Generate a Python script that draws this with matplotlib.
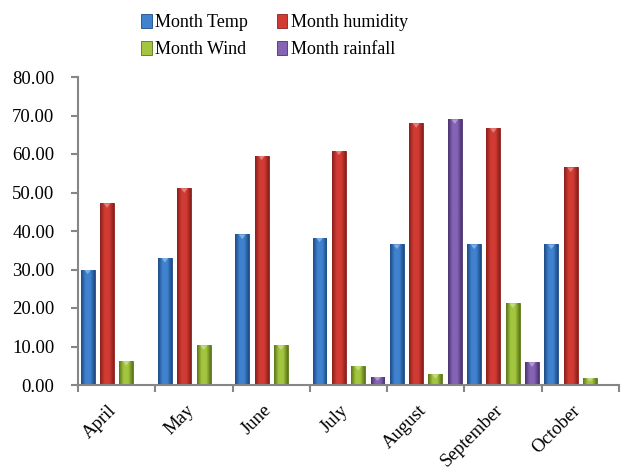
import numpy as np
import matplotlib
matplotlib.use("Agg")
import matplotlib.pyplot as plt
from matplotlib import colors
from matplotlib.transforms import ScaledTranslation

plt.rcParams['font.family'] = ['Liberation Serif', 'DejaVu Serif']
plt.rcParams['font.size'] = 13

# values
months = ["April", "May", "June", "July", "August", "September", "October"]
temp = [30.0, 33.0, 39.1, 38.3, 36.5, 36.5, 36.5]
humidity = [47.2, 51.1, 59.6, 60.9, 68.0, 66.7, 56.5]
wind = [6.2, 10.3, 10.3, 4.9, 2.8, 21.2, 1.8]
rainfall = [0.0, 0.0, 0.0, 2.1, 69.0, 5.9, 0.0]
series_names = ["Month Temp", "Month humidity", "Month Wind", "Month rainfall"]

# (mid colour, edge colour)
cols = [("#3f82cf", "#1d4a85"),
        ("#d13b34", "#8a1f1b"),
        ("#a3c53f", "#5a7418"),
        ("#8563b5", "#4a3270")]

fig = plt.figure(figsize=(6.21, 4.74), dpi=100)
ax = fig.add_axes([78/621, 1-385/474, (619-78)/621, (385-77)/474])

x = np.arange(len(months))
width = 0.18
handles = []
for k, vals in enumerate([temp, humidity, wind, rainfall]):
    mid, edge = cols[k]
    bars = ax.bar(x + (k - 1.5) * 0.25, vals, width, color=mid,
                  edgecolor=edge, linewidth=0.6, label=series_names[k], zorder=2)
    handles.append(bars)
    # horizontal shading so the bars look rounded
    cmap = colors.LinearSegmentedColormap.from_list("c%d" % k, [edge, mid, mid, edge])
    grad = np.linspace(0, 1, 64).reshape(1, -1)
    for b in bars:
        if b.get_height() <= 0:
            continue
        bx, by = b.get_x(), b.get_y()
        im = ax.imshow(grad, cmap=cmap, aspect="auto", zorder=2.5,
                       extent=[bx, bx + b.get_width(), by, by + b.get_height()])
        im.set_clip_path(b)
        # little bevel at top
        h = b.get_height()
        tri_h = min(1.2, h * 0.5)
        ax.fill([bx + width * 0.25, bx + width * 0.75, bx + width * 0.5],
                [h, h, h - tri_h], color=colors.to_rgba("white", 0.35),
                lw=0, zorder=3)

ax.set_xlim(-0.5, len(months) - 0.5)
ax.set_ylim(0, 80)
ax.set_yticks(np.arange(0, 81, 10))
ax.yaxis.set_major_formatter(matplotlib.ticker.FormatStrFormatter("%.2f"))

ax.set_xticks(np.arange(-0.5, len(months)), labels=[""] * (len(months) + 1))
ax.set_xticks(x, labels=months, minor=True)
ax.tick_params(axis="x", which="minor", length=0, pad=12, labelsize=13.5)
shift = ScaledTranslation(-6/72, 0, fig.dpi_scale_trans)
for lab in ax.get_xticklabels(minor=True):
    lab.set_rotation(45)
    lab.set_ha("right")
    lab.set_rotation_mode("anchor")
    lab.set_transform(lab.get_transform() + shift)

grey = "#868686"
for s in ["top", "right"]:
    ax.spines[s].set_visible(False)
for s in ["left", "bottom"]:
    ax.spines[s].set_color(grey)
    ax.spines[s].set_linewidth(1.5)
ax.tick_params(axis="both", which="major", color=grey, width=1.5, length=5)
ax.tick_params(axis="y", pad=12, labelsize=13.5)

order = [handles[0], handles[2], handles[1], handles[3]]
labels = [series_names[0], series_names[2], series_names[1], series_names[3]]
fig.legend(order, labels, ncol=2, loc="upper center", bbox_to_anchor=(0.442, 1.005),
           frameon=False, handlelength=0.6, handleheight=0.8, handletextpad=0.2,
           columnspacing=1.57, labelspacing=0.55, fontsize=13)

fig.savefig("out.png", dpi=100)
